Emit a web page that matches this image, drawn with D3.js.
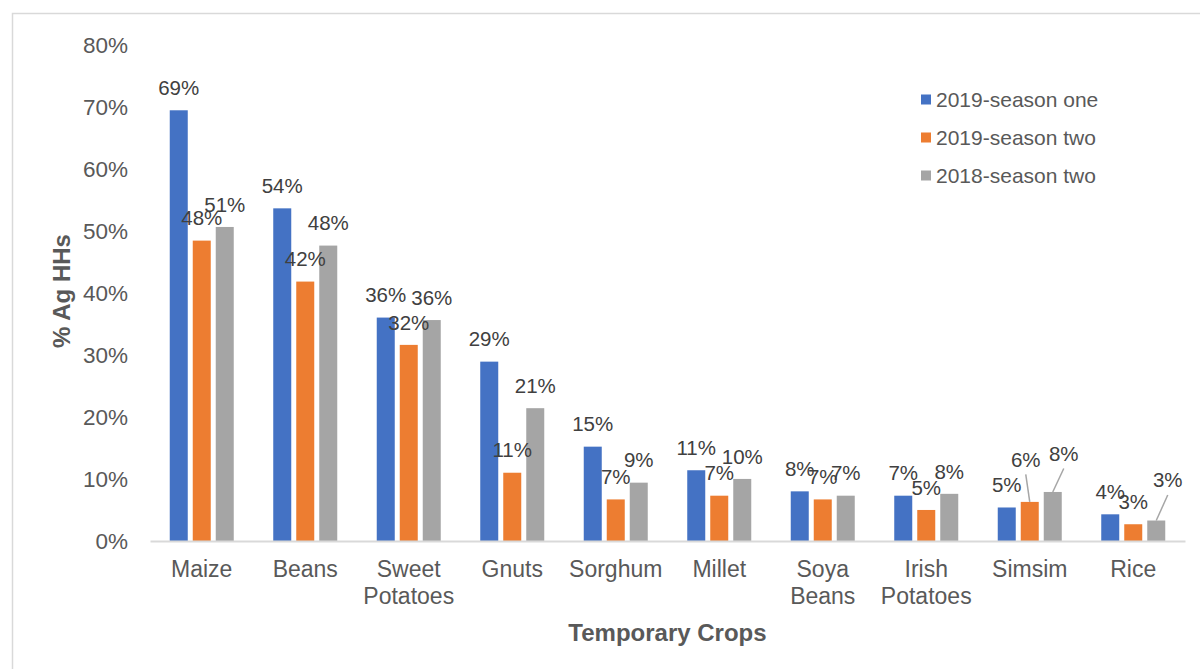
<!DOCTYPE html>
<html>
<head>
<meta charset="utf-8">
<script src="https://cdn.jsdelivr.net/npm/d3@7/dist/d3.min.js"></script>
<style>
  html, body { margin: 0; padding: 0; background: #ffffff; }
  svg { display: block; font-family: "Liberation Sans", Arial, sans-serif; }
</style>
</head>
<body>
<svg id="chart" width="1200" height="669"></svg>
<script>
// ---- data ----
const categories = ["Maize", "Beans", "Sweet Potatoes", "Gnuts", "Sorghum", "Millet", "Soya Beans", "Irish Potatoes", "Simsim", "Rice"];
const seriesNames = ["2019-season one", "2019-season two", "2018-season two"];
const season2019one = [0.694, 0.536, 0.360, 0.289, 0.152, 0.114, 0.080, 0.073, 0.054, 0.043];
const season2019two = [0.484, 0.418, 0.316, 0.110, 0.067, 0.073, 0.067, 0.050, 0.063, 0.027];
const season2018two = [0.506, 0.476, 0.356, 0.214, 0.094, 0.100, 0.073, 0.076, 0.079, 0.033];
const yTicks = [0, 0.1, 0.2, 0.3, 0.4, 0.5, 0.6, 0.7, 0.8];

// ---- style ----
const colors = ["#4472C4", "#ED7D31", "#A5A5A5"];
// manually moved labels (with leader lines): key "series|category" -> pixel offset
const labelMoves = {
  "1|Simsim": [-4, -20],
  "2|Simsim": [11, -16],
  "2|Rice": [11.5, -18]
};

const allSeries = [season2019one, season2019two, season2018two];
const svg = d3.select("#chart");

// chart frame
svg.append("rect").attr("x", 12.5).attr("y", 13.5).attr("width", 1300).attr("height", 800)
  .attr("fill", "none").attr("stroke", "#D9D9D9").attr("stroke-width", 1.5);

const x0 = d3.scaleBand().domain(categories).range([150, 1185]).paddingInner(0.3816).paddingOuter(0.1908);
const x1 = d3.scaleBand().domain(d3.range(seriesNames.length)).range([0, x0.bandwidth()]).paddingInner(5 / 23);
const y = d3.scaleLinear().domain([0, 0.8]).range([541, 44.5]);

// y axis (labels only)
const yAxis = d3.axisLeft(y).tickValues(yTicks).tickFormat(d3.format(".0%")).tickSize(0).tickPadding(0);
const gy = svg.append("g").attr("transform", "translate(128,0)").call(yAxis);
gy.select(".domain").remove();
gy.selectAll("text").attr("fill", "#595959").style("font-size", "22.5px").attr("dy", "0.35em");

// bars
const rows = categories.map((c, i) => allSeries.map((s, k) => ({ cat: c, k: k, v: s[i] })));
const groups = svg.append("g").selectAll("g").data(rows).join("g")
  .attr("transform", (d, i) => `translate(${x0(categories[i])},0)`);
groups.selectAll("rect").data(d => d).join("rect")
  .attr("x", d => x1(d.k)).attr("width", x1.bandwidth())
  .attr("y", d => y(d.v)).attr("height", d => y(0) - y(d.v))
  .attr("fill", d => colors[d.k]);

// baseline
const gx = svg.append("g").attr("transform", `translate(0,${y(0)})`)
  .call(d3.axisBottom(x0).tickSize(0).tickFormat(""));
gx.select(".domain").attr("stroke", "#D9D9D9").attr("stroke-width", 2);

// category labels (wrapped)
const catG = svg.append("g");
categories.forEach(c => {
  const words = c.split(" ");
  const t = catG.append("text").attr("x", x0(c) + x0.bandwidth() / 2).attr("y", 569)
    .attr("text-anchor", "middle").attr("fill", "#595959").style("font-size", "23px");
  words.forEach((w, j) => {
    t.append("tspan").attr("x", x0(c) + x0.bandwidth() / 2).attr("dy", j === 0 ? "0.35em" : "27px").text(w);
  });
});

// data labels
const pct = d3.format(".0%");
const lblG = svg.append("g");
rows.flat().forEach(d => {
  const bx = x0(d.cat) + x1(d.k) + x1.bandwidth() / 2;
  const by = y(d.v);
  const mv = labelMoves[d.k + "|" + d.cat];
  let lx = bx, ly = by - 22.5;
  if (mv) {
    lx += mv[0]; ly += mv[1];
    lblG.append("line").attr("x1", lx).attr("y1", ly + 15).attr("x2", bx).attr("y2", by)
      .attr("stroke", "#A6A6A6").attr("stroke-width", 1.5);
  }
  lblG.append("text").attr("x", lx).attr("y", ly).attr("dy", "0.35em")
    .attr("text-anchor", "middle").attr("fill", "#404040").style("font-size", "20.5px")
    .text(pct(d.v));
});

// axis titles
svg.append("text").attr("transform", "translate(62,291) rotate(-90)")
  .attr("text-anchor", "middle").attr("dy", "0.35em").attr("fill", "#595959")
  .style("font-size", "24px").style("font-weight", "bold").text("% Ag HHs");
svg.append("text").attr("x", (150 + 1185) / 2).attr("y", 633).attr("dy", "0.35em")
  .attr("text-anchor", "middle").attr("fill", "#595959")
  .style("font-size", "24px").style("font-weight", "bold").text("Temporary Crops");

// legend
const leg = svg.append("g");
seriesNames.forEach((n, i) => {
  const cy = 99.5 + i * 38;
  leg.append("rect").attr("x", 921).attr("y", cy - 5).attr("width", 10).attr("height", 10).attr("fill", colors[i]);
  leg.append("text").attr("x", 936).attr("y", cy).attr("dy", "0.35em").attr("fill", "#595959")
    .style("font-size", "21px").text(n);
});
</script>
</body>
</html>
